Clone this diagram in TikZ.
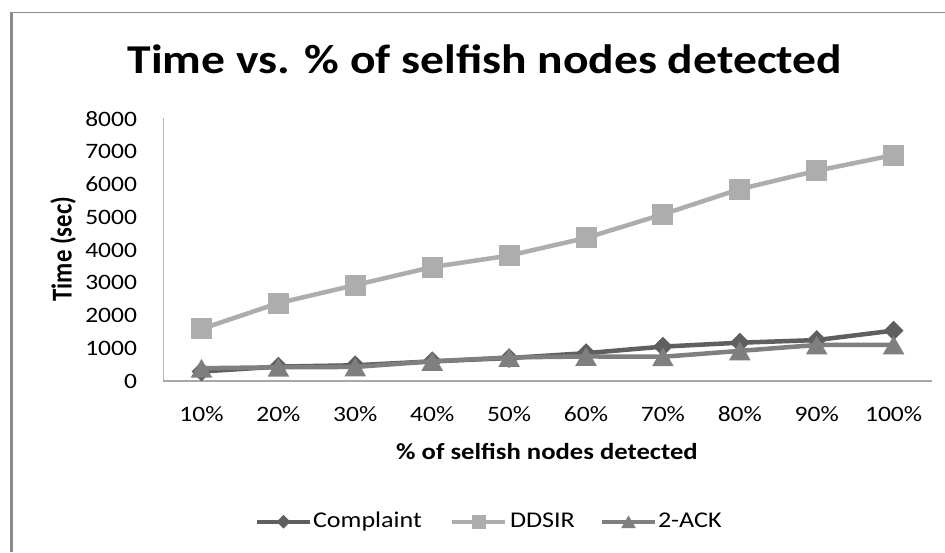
\documentclass[tikz,border=0pt]{standalone}
\usepackage{fontspec}
\setmainfont{Carlito}
\usetikzlibrary{shapes.geometric}
\newcommand\hs[1]{\scalebox{1.16}[1]{#1}}
\definecolor{ccol}{HTML}{5F5F5F}
\definecolor{dcol}{HTML}{ADADAD}
\definecolor{acol}{HTML}{7F7F7F}
\definecolor{framecol}{HTML}{8A8A8A}
\definecolor{axcol}{HTML}{A8A8A8}
\begin{document}
\begin{tikzpicture}[x=1pt,y=-1pt,
  txt/.style={inner sep=0pt, outer sep=0pt},
  tick/.style={txt, anchor=base east, font=\fontsize{22}{22}\selectfont},
  xtick/.style={txt, anchor=base, font=\fontsize{22}{22}\selectfont},
  legtxt/.style={txt, anchor=base west, font=\fontsize{22.5}{22.5}\selectfont},
  cline/.style={ccol, line width=4.5pt, line join=round},
  dline/.style={dcol, line width=4.5pt, line join=round},
  aline/.style={acol, line width=4.5pt, line join=round},
  cmark/.style={diamond, fill=ccol, inner sep=0pt, minimum width=20pt, minimum height=20pt},
  dmark/.style={rectangle, fill=dcol, inner sep=0pt, minimum size=21pt},
  amark/.style={regular polygon, regular polygon sides=3, fill=acol, inner sep=0pt, minimum size=25pt, yshift=-3.2pt},
  cleg/.style={diamond, fill=ccol, inner sep=0pt, minimum width=14pt, minimum height=14pt},
  dleg/.style={rectangle, fill=dcol, inner sep=0pt, minimum size=14pt},
  aleg/.style={regular polygon, regular polygon sides=3, fill=acol, inner sep=0pt, minimum size=17pt, yshift=-2.2pt}
]
\useasboundingbox (0,0) rectangle (945,552);
\fill[white] (0,0) rectangle (945,552);
% frame
\draw[framecol, line width=1.5pt] (10,12.5) -- (945,12.5);
\draw[framecol, line width=3pt] (11.5,12) -- (11.5,552);
% title
\node[txt, anchor=base, font=\fontsize{41}{41}\selectfont\bfseries] (title) at (485,73.3) {\hs{Time vs. \% of selfish nodes detected}};
% axes
\coordinate (o) at (163,381);
\coordinate (ytop) at (163,118);
\coordinate (xend) at (932,381);
\draw[axcol!80, line width=1pt] (o) -- (ytop);
\draw[axcol, line width=1.5pt] (o) -- (xend);
% y ticks
\foreach \v in {0,1000,...,8000} {
  \node[tick] (yt\v) at (137,{381-0.03275*\v+7}) {\hs{\v}};
}
% x ticks
\foreach \p [count=\i] in {10,20,...,100} {
  \node[xtick] (xt\i) at ({201.5+76.9*(\i-1)},421.7) {\hs{\p\%}};
}
% axis titles
\node[txt, anchor=base, font=\fontsize{23}{23}\selectfont\bfseries] (xlab) at (547,459.5) {\hs{\% of selfish nodes detected}};
\node[txt, anchor=base, rotate=90, font=\fontsize{24.8}{24.8}\selectfont\bfseries] (ylab) at (71.7,249) {\scalebox{1}[1.16]{Time (sec)}};
% data
\foreach \v [count=\i] in {290,440,480,600,700,850,1050,1170,1250,1540}
  \coordinate (C\i) at ({201.5+76.9*(\i-1)},{381-0.03275*\v});
\foreach \v [count=\i] in {1590,2380,2930,3480,3830,4370,5090,5860,6420,6900}
  \coordinate (D\i) at ({201.5+76.9*(\i-1)},{381-0.03275*\v});
\foreach \v [count=\i] in {390,420,430,600,720,750,740,920,1100,1100}
  \coordinate (A\i) at ({201.5+76.9*(\i-1)},{381-0.03275*\v});
% Complaint
\draw[cline] (C1) \foreach \i in {2,...,10} { -- (C\i) };
\foreach \i in {1,...,10} \node[cmark] (cm\i) at (C\i) {};
% DDSIR
\draw[dline] (D1) \foreach \i in {2,...,10} { -- (D\i) };
\foreach \i in {1,...,10} \node[dmark] (dm\i) at (D\i) {};
% 2-ACK
\draw[aline] (A1) \foreach \i in {2,...,10} { -- (A\i) };
\foreach \i in {1,...,10} \node[amark] (am\i) at (A\i) {};
% legend
\coordinate (l1a) at (257,521.7); \coordinate (l1b) at (310,521.7);
\draw[ccol, line width=4pt] (l1a) -- (l1b);
\node[cleg] (lg1) at (283.5,521.7) {};
\node[legtxt] (lt1) at (313,527.7) {\hs{Complaint}};
\coordinate (l2a) at (452,521.7); \coordinate (l2b) at (505,521.7);
\draw[dcol, line width=4pt] (l2a) -- (l2b);
\node[dleg] (lg2) at (478.5,521.7) {};
\node[legtxt] (lt2) at (510,527.7) {\hs{DDSIR}};
\coordinate (l3a) at (602,521.7); \coordinate (l3b) at (655,521.7);
\draw[acol, line width=4pt] (l3a) -- (l3b);
\node[aleg] (lg3) at (628.5,521.7) {};
\node[legtxt] (lt3) at (658,527.7) {\hs{2-ACK}};
\end{tikzpicture}
\end{document}
